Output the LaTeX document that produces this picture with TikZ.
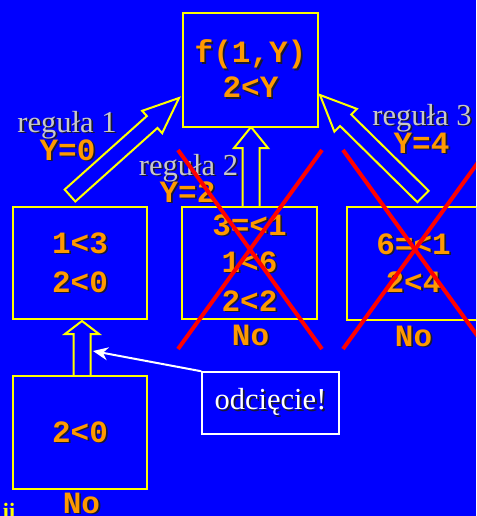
\documentclass[tikz,border=0pt]{standalone}
\usepackage{fontspec}
\setmainfont{Liberation Serif}
\newfontfamily\monofam{Liberation Mono}
\usetikzlibrary{calc,arrows.meta}
\definecolor{bg}{RGB}{0,0,255}
\definecolor{ylw}{RGB}{255,255,0}
\definecolor{org}{RGB}{255,153,0}
\definecolor{gry}{RGB}{200,200,200}
\definecolor{shdc}{RGB}{25,25,50}
\newcommand\shd[1]{\leavevmode\rlap{\kern1.8pt\raisebox{-1.8pt}{\textcolor{shdc}{#1}}}#1}
\newcommand\blockarr[5]{%
  \coordinate (H) at ($(#2)!#5!(#1)$);
  \draw[barr] ($(#1)!#3!90:(#2)$) -- ($(H)!#3!90:(#2)$) -- ($(H)!#4!90:(#2)$) -- (#2)
    -- ($(H)!#4!-90:(#2)$) -- ($(H)!#3!-90:(#2)$) -- ($(#1)!#3!-90:(#2)$) -- cycle;}
\tikzset{
  box/.style={draw=ylw, line width=2pt, fill=bg, inner sep=0pt},
  otext/.style={text=org, font=\monofam\bfseries\fontsize{31}{31}\selectfont, anchor=base, inner sep=0pt},
  gtext/.style={text=gry, font=\fontsize{30.5}{30.5}\selectfont, anchor=base, inner sep=0pt},
  barr/.style={draw=ylw, line width=2pt, fill=bg, line join=miter},
  redx/.style={draw=red, line width=4pt},
}
\begin{document}
\begin{tikzpicture}[x=1pt,y=-1pt]
\useasboundingbox (0,0) rectangle (476,516);
\fill[bg] (0,0) rectangle (476,516);
\clip (0,0) rectangle (476,516);

% block arrows (drawn under the boxes)
\coordinate (la1) at (70,195.5); \coordinate (la2) at (179,98);
\coordinate (ra1) at (423,196.5); \coordinate (ra2) at (320,95);
\coordinate (ma1) at (251,207); \coordinate (ma2) at (251,127);
\coordinate (ba1) at (82,377); \coordinate (ba2) at (82,321);
\blockarr{la1}{la2}{8pt}{15pt}{36pt}
\blockarr{ra1}{ra2}{8pt}{16pt}{36pt}
\blockarr{ma1}{ma2}{8.5pt}{17pt}{21pt}
\blockarr{ba1}{ba2}{8.5pt}{17pt}{13pt}

% boxes
\node[box, minimum width=135pt, minimum height=114pt] (top) at (250.5,70) {};
\node[box, minimum width=134pt, minimum height=112pt] (left) at (80,263) {};
\node[box, minimum width=135pt, minimum height=112pt] (mid) at (249.5,263) {};
\node[box, minimum width=135pt, minimum height=113pt] (right) at (414.5,263.5) {};
\node[box, minimum width=134pt, minimum height=113pt] (bot) at (80,432.5) {};

% box texts
\node[otext] (t1) at (250.5,63) {\shd{f(1,Y)}};
\node[otext] (t2) at (250.5,98) {\shd{2<Y}};
\node[otext] (l1) at (80,253) {\shd{1<3}};
\node[otext] (l2) at (80,292) {\shd{2<0}};
\node[otext] (m1) at (249.5,235) {\shd{3=<1}};
\node[otext] (m2) at (249.5,272) {\shd{1<6}};
\node[otext] (m3) at (249.5,311) {\shd{2<2}};
\node[otext] (r1) at (413.5,254) {\shd{6=<1}};
\node[otext] (r2) at (413.5,292) {\shd{2<4}};
\node[otext] (b1) at (80,442) {\shd{2<0}};
\node[otext] (mno) at (250.5,345) {\shd{No}};
\node[otext] (rno) at (413.5,346) {\shd{No}};
\node[otext] (bno) at (81.5,513) {\shd{No}};

% rule labels
\node[gtext] (g1) at (67,132) {\shd{reguła 1}};
\node[otext] (y1) at (67.5,160) {\shd{Y=0}};
\node[gtext] (g2) at (188.5,175) {\shd{reguła 2}};
\node[otext] (y2) at (187.5,202) {\shd{Y=2}};
\node[gtext] (g3) at (422,125) {\shd{reguła 3}};
\node[otext] (y3) at (421.5,153) {\shd{Y=4}};

% red crosses
\draw[redx] (178,150) -- (322,349);
\draw[redx] (178,349) -- (322,150);
\draw[redx] (343,150) -- (487,349);
\draw[redx] (343,349) -- (487,150);

% cut-off callout
\node[draw=white, line width=1.5pt, fill=bg, minimum width=137pt, minimum height=62pt, inner sep=0pt,
      text=white, font=\fontsize{30.5}{30.5}\selectfont] (odc) at (270.5,403) {\shd{odcięcie!}};
\coordinate (cut) at (93,351);
\draw[white, line width=2pt, -{Stealth[length=15pt,width=13pt]}] (odc.north west) -- (cut);

% clipped fragment at bottom-left
\node[text=ylw, font=\bfseries\fontsize{22}{22}\selectfont, anchor=base, inner sep=0pt] (frag) at (9,518) {ii};
\end{tikzpicture}
\end{document}
